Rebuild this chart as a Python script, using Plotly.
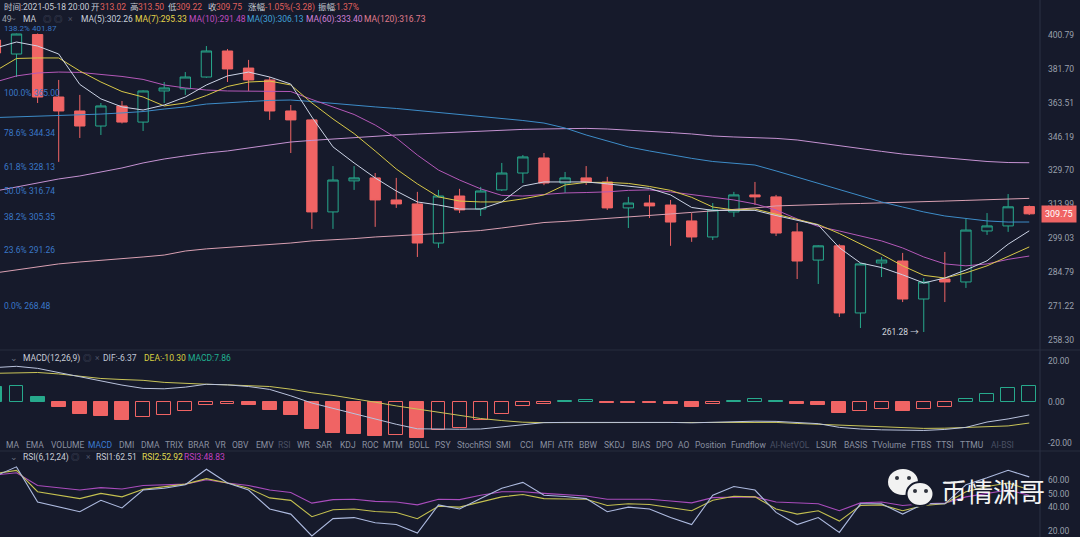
import plotly.graph_objects as go
import numpy as np

# ---------------- data ----------------
idx = list(range(50))
open_ = [397.8, 389.9, 401.0, 366.5, 359.2, 351.5, 361.8, 353.5, 369.7, 370.8,
         377.2, 391.6, 382.1, 375.6, 359.2, 354.6, 310.6, 324.8, 326.2, 316.0,
         314.2, 297.0, 317.8, 311.9, 320.6, 328.5, 335.7, 323.8, 326.2, 324.3,
         312.4, 314.6, 313.7, 306.6, 299.6, 310.6, 318.3, 317.4, 301.8, 289.8,
         295.8, 268.55, 288.6, 289.4, 274.0, 282.0, 280.8, 302.2, 304.4, 313.02]
high = [400.0, 401.5, 401.6, 375.6, 367.6, 363.35, 364.4, 370.0, 374.5, 379.9,
        394.4, 392.7, 386.6, 377.2, 362.3, 355.0, 331.8, 331.8, 328.5, 326.2,
        319.7, 320.6, 321.1, 322.0, 333.3, 337.1, 338.1, 329.0, 331.8, 326.7,
        317.4, 318.3, 316.0, 310.1, 314.6, 319.7, 324.3, 318.3, 305.7, 296.0,
        296.5, 288.6, 291.1, 292.8, 282.4, 293.2, 307.5, 310.1, 318.7, 313.50]
low = [388.0, 377.2, 363.35, 333.8, 345.5, 347.0, 352.8, 349.0, 363.35, 367.6,
       376.8, 374.5, 369.7, 354.6, 338.1, 303.1, 303.1, 320.6, 304.0, 312.4,
       291.1, 294.9, 310.1, 308.8, 320.1, 323.8, 322.8, 319.2, 322.9, 311.5,
       303.5, 307.9, 295.8, 297.5, 298.3, 308.4, 313.7, 300.0, 282.0, 280.0,
       267.0, 262.8, 282.8, 272.8, 261.28, 272.8, 278.4, 300.5, 301.8, 309.22]
close = [390.5, 401.3, 366.5, 359.2, 351.5, 361.8, 353.5, 369.7, 371.3, 377.2,
         391.6, 381.6, 375.6, 359.2, 354.6, 310.6, 325.2, 326.2, 316.0, 314.2,
         297.0, 317.8, 311.5, 320.1, 328.5, 336.2, 323.8, 326.2, 324.3, 312.4,
         314.6, 313.3, 306.1, 299.6, 311.5, 318.3, 317.4, 301.3, 289.4, 295.8,
         268.55, 288.2, 289.8, 274.0, 280.8, 280.8, 302.6, 304.4, 312.9, 309.75]

ma5 = [393.3, 396.7, 394.4, 389.9, 373.2, 365.5, 361.3, 359.7, 362.3, 366.5,
       372.9, 377.8, 379.9, 377.2, 373.4, 356.1, 341.1, 333.3, 326.2, 320.1,
       315.1, 313.7, 311.9, 311.9, 315.1, 322.4, 324.3, 324.3, 324.3, 323.4,
       322.2, 321.3, 318.3, 312.6, 311.3, 311.3, 311.3, 309.0, 306.8, 304.8,
       295.0, 288.6, 286.7, 283.7, 280.4, 282.4, 285.7, 289.5, 296.5, 302.26]
ma7 = [380.5, 387.4, 387.7, 387.7, 380.5, 374.5, 369.4, 366.5, 361.8, 363.35,
       367.3, 372.1, 374.5, 375.0, 372.9, 363.35, 355.1, 347.7, 339.1, 330.4,
       323.4, 317.4, 315.5, 315.1, 315.1, 316.5, 318.3, 322.9, 324.1, 324.1,
       323.6, 322.2, 320.4, 317.2, 312.8, 311.5, 311.9, 309.5, 307.3, 305.0,
       301.1, 296.6, 292.2, 287.4, 283.5, 282.4, 284.5, 287.4, 291.5, 295.33]
ma10 = [374.5, 377.8, 379.4, 379.9, 379.7, 378.8, 377.5, 375.9, 372.9, 371.3,
        370.2, 369.7, 369.7, 369.7, 369.4, 365.2, 361.3, 357.4, 352.0, 345.5,
        337.1, 329.9, 325.2, 321.1, 318.1, 317.8, 318.5, 319.2, 319.4, 319.7,
        320.4, 320.6, 319.7, 318.5, 317.4, 316.0, 314.2, 311.5, 307.5, 304.2,
        302.2, 300.0, 297.9, 294.9, 291.1, 288.2, 287.4, 288.2, 290.1, 291.48]
ma30 = [355.8, 356.1, 356.6, 356.9, 357.1, 357.6, 358.2, 358.9, 360.2, 361.3,
        362.8, 363.6, 364.1, 364.7, 364.9, 364.1, 363.1, 362.0, 361.3, 360.5,
        359.5, 358.4, 357.4, 356.4, 355.3, 354.3, 353.0, 350.5, 347.0, 344.0,
        341.1, 339.1, 337.2, 335.5, 334.0, 333.0, 332.3, 329.5, 326.6, 323.8,
        320.6, 317.8, 315.1, 312.8, 310.6, 308.8, 307.7, 306.6, 306.1, 306.13]
ma60 = [320.1, 322.0, 323.8, 325.7, 327.1, 329.0, 330.9, 333.3, 335.2, 336.7,
        338.1, 339.1, 340.6, 342.0, 343.5, 344.3, 345.0, 345.8, 346.5, 347.0,
        347.5, 348.0, 348.5, 349.0, 349.5, 349.8, 350.0, 350.3, 350.3, 350.0,
        349.5, 349.0, 348.2, 347.5, 346.5, 346.0, 345.8, 345.3, 344.5, 343.0,
        341.5, 340.1, 338.9, 337.6, 336.7, 335.7, 334.7, 334.0, 333.5, 333.40]
ma120 = [284.5, 285.7, 287.0, 288.2, 289.0, 289.6, 290.3, 291.1, 291.9, 293.6,
         294.5, 295.1, 295.5, 296.4, 297.0, 297.9, 298.3, 298.9, 299.6, 300.0,
         300.7, 301.1, 301.8, 302.4, 303.5, 304.8, 305.9, 306.4, 307.0, 307.7,
         308.4, 309.0, 309.7, 310.4, 311.0, 311.7, 312.4, 313.3, 313.7, 313.9,
         314.2, 314.4, 314.6, 314.9, 315.1, 315.5, 315.8, 316.0, 316.2, 316.73]

fib_pct = ["138.2%", "100.0%", "78.6%", "61.8%", "50.0%", "38.2%", "23.6%", "0.0%"]
fib_val = [401.87, 365.00, 344.34, 328.13, 316.74, 305.35, 291.26, 268.48]

price_ticks = [400.79, 381.70, 363.51, 346.19, 329.70, 313.99, 299.03, 284.79, 271.22, 258.30]

macd_hist = [7.0, 7.5, 2.5, -2.5, -5.9, -7.1, -8.7, -7.4, -6.2, -4.5,
             -1.5, -1.2, -1.7, -4.2, -6.2, -13.3, -15.1, -15.5, -16.4, -16.1,
             -17.6, -13.8, -12.6, -8.7, -5.9, -2.0, -1.2, 0.6, 0.7, -0.4,
             -0.4, -0.5, -1.1, -2.4, -1.1, 0.6, 1.3, 0.6, -1.0, -1.6,
             -5.5, -4.5, -3.7, -4.5, -3.7, -2.5, 1.2, 3.9, 6.7, 7.86]
dif = [16.6, 17.2, 16.2, 14.2, 12.0, 9.9, 8.1, 6.5, 6.3, 7.1,
       8.5, 8.2, 7.4, 6.0, 2.9, -0.6, -3.2, -5.8, -8.3, -10.9,
       -13.1, -13.3, -13.3, -13.2, -12.1, -11.2, -10.1, -10.0, -9.96, -9.9,
       -9.9, -9.9, -10.0, -10.2, -9.9, -9.5, -9.4, -9.5, -10.0, -10.6,
       -12.4, -13.2, -13.6, -13.9, -13.9, -13.4, -12.4, -9.8, -8.3, -6.37]
dea = [13.8, 14.0, 14.2, 13.5, 12.4, 11.3, 10.8, 10.4, 9.4, 8.8,
       8.5, 8.2, 7.9, 7.4, 6.1, 4.4, 3.1, 1.6, -0.2, -2.0,
       -3.6, -5.1, -6.6, -8.1, -9.1, -9.9, -10.1, -10.1, -10.1, -10.1,
       -10.1, -10.0, -10.0, -10.0, -10.0, -10.0, -10.0, -10.0, -10.5, -10.9,
       -11.3, -11.7, -12.2, -12.6, -12.9, -12.8, -12.4, -12.1, -11.7, -10.30]
macd_ticks = [20, 0, -20]

rsi1 = [63.2, 70.0, 43.7, 40.0, 36.5, 45.0, 39.3, 52.7, 54.0, 56.6,
        68.2, 57.9, 52.7, 38.5, 34.7, 18.4, 31.3, 32.1, 28.2, 26.9,
        20.5, 41.6, 38.5, 46.3, 54.0, 58.4, 48.8, 47.9, 46.3, 36.5,
        39.9, 38.5, 32.1, 26.9, 48.8, 55.3, 52.7, 36.0, 26.9, 32.1,
        21.0, 42.4, 42.4, 34.7, 42.4, 42.4, 56.6, 61.8, 67.4, 62.51]
rsi2 = [65.0, 67.4, 51.4, 49.0, 46.3, 50.2, 47.6, 53.2, 55.0, 57.1,
        61.2, 57.9, 54.0, 46.8, 45.0, 32.8, 38.0, 38.5, 36.7, 35.9,
        31.3, 40.6, 39.9, 43.7, 47.6, 49.3, 46.3, 46.0, 45.8, 41.1,
        42.4, 41.9, 39.6, 37.2, 45.0, 48.1, 47.6, 38.5, 34.7, 37.2,
        29.5, 41.1, 41.6, 37.2, 41.1, 42.4, 51.4, 55.3, 57.9, 52.92]
rsi3 = [63.9, 65.6, 56.1, 54.2, 52.7, 54.5, 53.5, 56.1, 56.4, 57.1,
        60.4, 57.9, 56.1, 52.7, 50.9, 42.9, 45.5, 45.8, 44.2, 43.7,
        41.6, 45.8, 45.5, 48.8, 51.4, 51.4, 50.2, 49.1, 48.2, 45.8,
        45.8, 45.8, 44.5, 43.1, 47.0, 47.3, 47.6, 43.7, 43.0, 42.4,
        37.2, 43.1, 43.7, 41.1, 42.4, 42.9, 47.6, 50.2, 52.7, 48.83]
rsi_ticks = [60, 50, 40]
rsi_low_tick = 20

tabs = ["MA", "EMA", "VOLUME", "MACD", "DMI", "DMA", "TRIX", "BRAR", "VR", "OBV",
        "EMV", "RSI", "WR", "SAR", "KDJ", "ROC", "MTM", "BOLL", "PSY", "StochRSI",
        "SMI", "CCI", "MFI", "ATR", "BBW", "SKDJ", "BIAS", "DPO", "AO", "Position",
        "Fundflow", "AI-NetVOL", "LSUR", "BASIS", "TVolume", "FTBS", "TTSI", "TTMU", "AI-BSI"]
tab_x = [12, 34.5, 67, 100.5, 126, 150, 174.5, 199, 220, 240,
         264.5, 284.5, 303.5, 324, 347.5, 370, 393, 419.5, 443, 473.5,
         503.5, 526, 547, 566, 588.5, 614, 640.5, 664, 683, 710,
         748.5, 790, 826, 855, 889, 921, 945, 971.5, 1002]

# ---------------- style ----------------
BG = "#161a2b"
UP = "#27a98c"
DN = "#f06464"
RED_TXT = "#e0605c"
GREY = "#c8ccd6"
AXIS_TXT = "#9aa0ad"
FIB = "#3466ac"
FIB_TXT = "#3a78c8"
FONT = "Roboto, 'Noto Sans CJK SC', sans-serif"
PW, H = 1040.0, 537.0


def px(x):
    return x / PW


def py(y):
    return 1 - y / H


dom_main = [py(350), 1.0]
dom_macd = [py(448), py(350)]
dom_rsi = [0.0, py(450)]

fig = go.Figure()

fig.add_trace(go.Candlestick(
    x=idx, open=open_, high=high, low=low, close=close,
    increasing=dict(line=dict(color=UP, width=1), fillcolor="rgba(0,0,0,0)"),
    decreasing=dict(line=dict(color=DN, width=1), fillcolor=DN),
    whiskerwidth=0, hoverinfo="skip", xaxis="x", yaxis="y", showlegend=False))

for vals, col in [(ma120, "#d9a0b2"), (ma60, "#c592d2"), (ma30, "#3d8cc8"),
                  (ma10, "#b458b8"), (ma7, "#d8c848"), (ma5, "#ccd4e6")]:
    fig.add_trace(go.Scatter(x=idx, y=vals, mode="lines", line=dict(color=col, width=1),
                             hoverinfo="skip", xaxis="x", yaxis="y", showlegend=False))

# MACD histogram: hollow when value rises vs previous bar
bar_col, bar_fill = [], []
for i, v in enumerate(macd_hist):
    c = UP if v >= 0 else DN
    rising = i > 0 and v > macd_hist[i - 1]
    bar_col.append(c)
    bar_fill.append("rgba(0,0,0,0)" if rising else c)
fig.add_trace(go.Bar(x=idx, y=macd_hist, width=0.66,
                     marker=dict(color=bar_fill, line=dict(color=bar_col, width=1)),
                     hoverinfo="skip", xaxis="x2", yaxis="y2", showlegend=False))
fig.add_trace(go.Scatter(x=idx, y=dea, mode="lines", line=dict(color="#c9c458", width=1),
                         hoverinfo="skip", xaxis="x2", yaxis="y2", showlegend=False))
fig.add_trace(go.Scatter(x=idx, y=dif, mode="lines", line=dict(color="#b9c2dc", width=1),
                         hoverinfo="skip", xaxis="x2", yaxis="y2", showlegend=False))

for vals, col in [(rsi3, "#a94cbc"), (rsi2, "#c4c050"), (rsi1, "#aebbe0")]:
    fig.add_trace(go.Scatter(x=idx, y=vals, mode="lines", line=dict(color=col, width=1.1),
                             hoverinfo="skip", xaxis="x3", yaxis="y3", showlegend=False))

xr = [0.218, 49.51]
xcommon = dict(range=xr, visible=False, showgrid=False, zeroline=False)
ycommon = dict(side="right", showgrid=False, zeroline=False, ticks="", showline=False,
               tickfont=dict(size=8.5, color=AXIS_TXT, family=FONT), automargin=False,
               ticklabelstandoff=7)

fig.update_layout(
    width=1080, height=537,
    margin=dict(l=0, r=40, t=0, b=0),
    paper_bgcolor=BG, plot_bgcolor=BG,
    template="none",
    showlegend=False,
    bargap=0,
    font=dict(family=FONT, color=GREY),
    xaxis=dict(domain=[0, 1], anchor="y", rangeslider=dict(visible=False), **xcommon),
    xaxis2=dict(domain=[0, 1], anchor="y2", **xcommon),
    xaxis3=dict(domain=[0, 1], anchor="y3", **xcommon),
    yaxis=dict(domain=dom_main, anchor="x", type="log", range=[2.40586, 2.62473],
               tickvals=price_ticks, ticktext=[f"{v:.2f}" for v in price_ticks], **ycommon),
    yaxis2=dict(domain=dom_macd, anchor="x2", range=[-22.4, 25.1],
                tickvals=macd_ticks, ticktext=[f"{v:.2f}" for v in macd_ticks], **ycommon),
    yaxis3=dict(domain=dom_rsi, anchor="x3", range=[17.6, 82.6],
                tickvals=rsi_ticks, ticktext=[f"{v:.2f}" for v in rsi_ticks], **ycommon),
)

shapes = []
for v in fib_val:
    shapes.append(dict(type="line", xref="paper", yref="y", x0=0, x1=1,
                       y0=np.log10(v), y1=np.log10(v), line=dict(color=FIB, width=1.2), layer="below"))
LINE = "#262c3f"
shapes.append(dict(type="line", xref="paper", yref="paper", x0=0, x1=px(1080), y0=py(350), y1=py(350),
                   line=dict(color=LINE, width=1)))
shapes.append(dict(type="line", xref="paper", yref="paper", x0=0, x1=px(1080), y0=py(451), y1=py(451),
                   line=dict(color=LINE, width=1)))
shapes.append(dict(type="line", xref="paper", yref="paper", x0=1, x1=1, y0=0, y1=1,
                   line=dict(color="#2a3045", width=1)))


# watermark (WeChat-like bubbles)
def ell(cx, cy, rx, ry, fill, line="rgba(0,0,0,0)", lw=0):
    return dict(type="circle", xref="paper", yref="paper", x0=px(cx - rx), x1=px(cx + rx),
                y0=py(cy + ry), y1=py(cy - ry), fillcolor=fill, line=dict(color=line, width=lw))


shapes.append(ell(903, 482, 15, 13, "#f2f2f2"))
shapes.append(ell(920, 494, 13.5, 12, "#f2f2f2", BG, 2))
for cx, cy in [(897, 478), (909, 478), (915, 491), (926, 491)]:
    shapes.append(ell(cx, cy, 2, 2, "#30333d"))
fig.update_layout(shapes=shapes)

anns = []


def txt(x, y, s, color, size=8.5, anchor="left", fam=FONT):
    anns.append(dict(xref="paper", yref="paper", x=px(x), y=py(y), text=s, showarrow=False,
                     xanchor=anchor, yanchor="middle", font=dict(size=size, color=color, family=fam)))


# header row 1
for x, s, c in [(2, "时间:2021-05-18 20:00", GREY), (89, "开", GREY), (98, "313.02", RED_TXT),
                (128, "高", GREY), (136, "313.50", RED_TXT), (166, "低", GREY), (174, "309.22", RED_TXT),
                (206, "收", GREY), (214, "309.75", RED_TXT), (246, "涨幅", GREY),
                (261, ":-1.05%(-3.28)", RED_TXT), (316, "振幅", GREY), (332, ":1.37%", RED_TXT)]:
    txt(x, 7, s, c)

# header row 2
for x, s, c in [(0, "49", AXIS_TXT), (8, "~", "#6a7080"), (21, "MA", GREY), (41, "◎", "#4d5366"),
                (52, "◎", "#4d5366"), (66, "×", "#4d5366"), (79, "MA(5):302.26", "#c8d0dc"),
                (133, "MA(7):295.33", "#e6d64a"), (187, "MA(10):291.48", "#c04cc0"),
                (245, "MA(30):306.13", "#40a0d8"), (304, "MA(60):333.40", "#d080d8"),
                (362, "MA(120):316.73", "#e07c8c")]:
    txt(x, 19, s, c)

# fib labels
for p, v in zip(fib_pct, fib_val):
    anns.append(dict(xref="paper", yref="y", x=px(2), y=np.log10(v), yshift=7 if p != "138.2%" else 5,
                     text=f"{p} {v:.2f}", showarrow=False, xanchor="left", yanchor="middle",
                     font=dict(size=8 if p == "138.2%" else 8.5, color=FIB_TXT, family=FONT)))

# low marker
anns.append(dict(xref="x", yref="y", x=43.85, y=np.log10(261.28), text="261.28 →", showarrow=False,
                 xanchor="right", yanchor="middle", font=dict(size=8.5, color="#d0d4dc", family=FONT)))

# last price box
anns.append(dict(xref="paper", yref="y", x=px(1041), y=np.log10(close[-1]), text="309.75",
                 showarrow=False, xanchor="left", yanchor="middle", bgcolor=DN, borderpad=3,
                 font=dict(size=9, color="#ffffff", family=FONT)))

# lowest RSI axis label (sits at the very bottom edge, drawn as text so it is not dropped)
anns.append(dict(xref="paper", yref="y3", x=px(1047), y=rsi_low_tick, text=f"{rsi_low_tick:.2f}",
                 showarrow=False, xanchor="left", yanchor="bottom", yshift=-3, borderpad=0,
                 font=dict(size=8.5, color=AXIS_TXT, family=FONT)))

# MACD header
for x, s, c in [(8, "⌄", "#6a7080"), (21, "MACD(12,26,9)", GREY), (81, "◎", "#4d5366"),
                (93, "×", "#4d5366"), (101, "DIF:-6.37", "#c0c8d8"), (142, "DEA:-10.30", "#d8d040"),
                (186, "MACD:7.86", "#20b090")]:
    txt(x, 358, s, c)

# tab bar
for s, x in zip(tabs, tab_x):
    c = "#8a90a0"
    if s == "MACD":
        c = "#3a7ad0"
    elif s in ("RSI", "AI-NetVOL", "AI-BSI"):
        c = "#4a5064"
    txt(x, 444.5, s, c, anchor="center")

# RSI header
for x, s, c in [(8, "⌄", "#6a7080"), (21, "RSI(6,12,24)", GREY), (69, "◎", "#4d5366"),
                (84, "×", "#4d5366"), (94, "RSI1:62.51", "#c8ccd6"), (140, "RSI2:52.92", "#e0dc50"),
                (182, "RSI3:48.83", "#c040c0")]:
    txt(x, 457, s, c)

# watermark text
txt(939, 490, "币情渊哥", "#f4f4f4", size=26, fam="'Noto Sans CJK SC', sans-serif")

fig.update_layout(annotations=anns)

fig.write_html("out.html", config={"displayModeBar": False},
               post_script="document.body.style.margin='0';document.body.style.background='" + BG + "';")
